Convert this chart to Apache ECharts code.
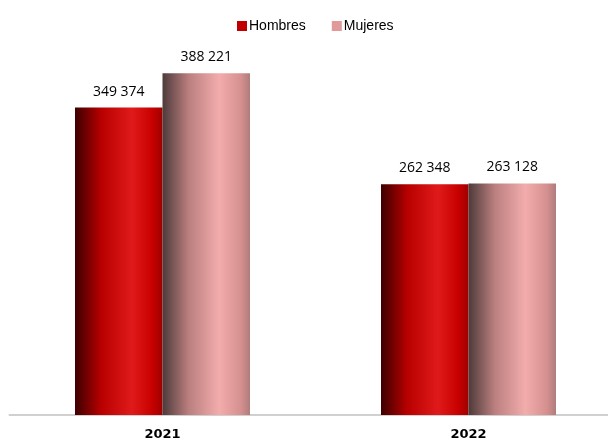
<!DOCTYPE html>
<html>
<head>
<meta charset="utf-8">
<script src="https://cdn.jsdelivr.net/npm/echarts@6/dist/echarts.min.js"></script>
<style>
  html, body { margin: 0; padding: 0; background: #fff; overflow: hidden; }
  /* the plot runs past the right edge in the original, so the canvas is a bit wider than the window */
  #chart { width: 622px; height: 441px; }
</style>
</head>
<body>
<div id="chart"></div>
<script>
// data
var years = ['2021', '2022'];
var hombres = [349374, 262348];
var mujeres = [388221, 263128];

function fmt(v) {
    return String(v).replace(/\B(?=(\d{3})+(?!\d))/g, ' ');
}

// cylinder-ish shading, like the original
var redFill = new echarts.graphic.LinearGradient(0, 0, 1, 0, [
    {offset: 0, color: '#3c0000'},
    {offset: 0.3, color: '#b80000'},
    {offset: 0.65, color: '#e01a1a'},
    {offset: 0.88, color: '#c80000'},
    {offset: 1, color: '#a00000'}
]);
var pinkFill = new echarts.graphic.LinearGradient(0, 0, 1, 0, [
    {offset: 0, color: '#4e3a3a'},
    {offset: 0.3, color: '#bb7f7f'},
    {offset: 0.65, color: '#f3acac'},
    {offset: 0.9, color: '#d48f8f'},
    {offset: 1, color: '#b07c7c'}
]);

var labelStyle = {
    show: true,
    position: 'top',
    distance: 9,
    color: '#000',
    fontSize: 14,
    fontFamily: 'Open Sans',
    formatter: function (p) { return fmt(p.value); }
};

var myChart = echarts.init(document.getElementById('chart'));
var option = {
    backgroundColor: '#fff',
    animation: false,
    legend: {
        top: 14,
        left: 232,
        itemWidth: 10,
        itemHeight: 10,
        itemGap: 26,
        icon: 'rect',
        textStyle: {
            color: '#000',
            fontSize: 14,
            fontFamily: 'Liberation Sans',
            padding: [0, 0, 0, -3]
        },
        data: [
            {name: 'Hombres', itemStyle: {color: '#c00000'}},
            {name: 'Mujeres', itemStyle: {color: '#e09a9a'}}
        ]
    },
    grid: {
        left: 9.5,
        right: 0.5,
        top: 63,
        bottom: 26,
        containLabel: false
    },
    xAxis: {
        type: 'category',
        data: years,
        axisLine: {lineStyle: {color: '#d0d0d0', width: 2}},
        axisTick: {show: false},
        axisLabel: {
            color: '#000',
            fontWeight: 'bold',
            fontSize: 13,
            fontFamily: 'DejaVu Sans',
            margin: 13
        }
    },
    yAxis: {
        type: 'value',
        min: 0,
        max: 400000,
        show: false,
        splitLine: {show: false}
    },
    series: [
        {
            name: 'Hombres',
            type: 'bar',
            data: hombres,
            barWidth: 87.5,
            barGap: '0%',
            itemStyle: {color: redFill},
            label: labelStyle
        },
        {
            name: 'Mujeres',
            type: 'bar',
            data: mujeres,
            barWidth: 87.5,
            itemStyle: {color: pinkFill},
            label: labelStyle
        }
    ]
};
myChart.setOption(option);
</script>
</body>
</html>
